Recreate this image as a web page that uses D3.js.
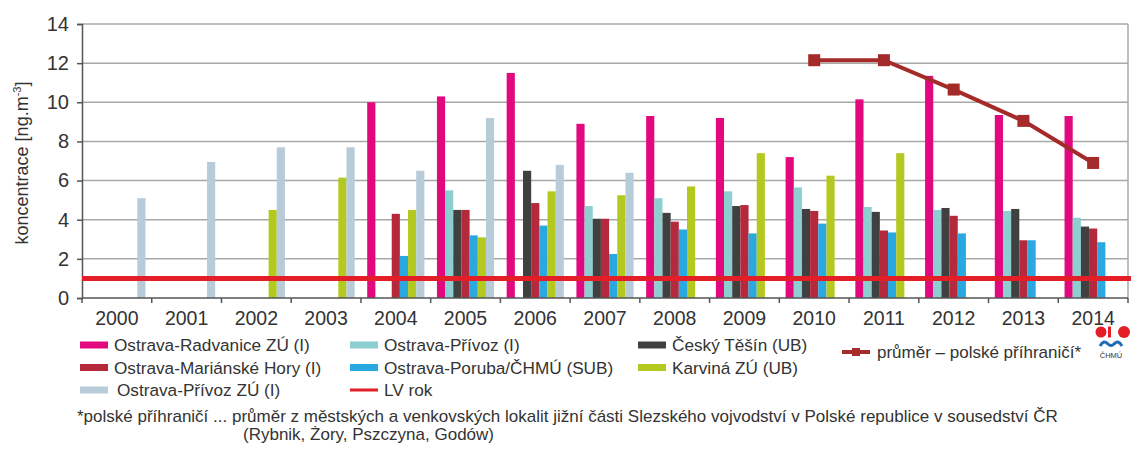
<!DOCTYPE html>
<html lang="cs">
<head>
	<meta charset="UTF-8">
	<title>Koncentrace</title>
	<script src="https://d3js.org/d3.v7.min.js"></script>
	<style>
		body {margin: 0; background: #fff;}
		text {font-family: Arial, "Liberation Sans", sans-serif; fill: #333;}
	</style>
</head>
<body>
	<div id="myDiv"></div>
<script>

	let years = ["2000","2001","2002","2003","2004","2005","2006","2007","2008","2009","2010","2011","2012","2013","2014"];
	let radvanice  = [null,null,null,null,10.0,10.3,11.5,8.9,9.3,9.2,7.2,10.15,11.35,9.35,9.3];
	let privozI    = [null,null,null,null,null,5.5,null,4.7,5.1,5.45,5.65,4.65,4.5,4.45,4.1];
	let ceskyTesin = [null,null,null,null,null,4.5,6.5,4.05,4.35,4.7,4.55,4.4,4.6,4.55,3.65];
	let marianske  = [null,null,null,null,4.3,4.5,4.85,4.05,3.9,4.75,4.45,3.45,4.2,2.95,3.55];
	let poruba     = [null,null,null,null,2.15,3.2,3.7,2.25,3.5,3.3,3.8,3.35,3.3,2.95,2.85];
	let karvina    = [null,null,4.5,6.15,4.5,3.1,5.45,5.25,5.7,7.4,6.25,7.4,null,null,null];
	let privozZU   = [5.1,6.95,7.7,7.7,6.5,9.2,6.8,6.4,null,null,null,null,null,null,null];
	let prumer     = [null,null,null,null,null,null,null,null,null,null,12.15,12.15,10.65,9.05,6.9];
	let lvRok = 1;
	let yTicks = [0,2,4,6,8,10,12,14];

	let series = [
		{name: "Ostrava-Radvanice ZÚ (I)", values: radvanice, color: "#e2087e"},
		{name: "Ostrava-Přívoz (I)", values: privozI, color: "#8dcfd1"},
		{name: "Český Těšín (UB)", values: ceskyTesin, color: "#404040"},
		{name: "Ostrava-Mariánské Hory (I)", values: marianske, color: "#b42a3c"},
		{name: "Ostrava-Poruba/ČHMÚ (SUB)", values: poruba, color: "#2aa9e0"},
		{name: "Karviná ZÚ (UB)", values: karvina, color: "#b3c920"},
		{name: "Ostrava-Přívoz ZÚ (I)", values: privozZU, color: "#b8cbd9"}
	];

	let svg = d3.select("#myDiv").append("svg")
		.attr("width", 1131)
		.attr("height", 450);

	let pLeft = 82, pRight = 1128, pTop = 24, pBottom = 298;

	let x0 = d3.scaleBand().domain(years).range([pLeft, pRight])
		.paddingInner(0.18).paddingOuter(0.09);
	let x1 = d3.scaleBand().domain(d3.range(series.length)).range([0, x0.bandwidth()]);
	let y = d3.scaleLinear().domain([0, 14]).range([pBottom, pTop]);

	// grid
	svg.append("g").selectAll("line")
		.data(yTicks.slice(1))
		.enter().append("line")
			.attr("x1", pLeft).attr("x2", pRight)
			.attr("y1", d => y(d)).attr("y2", d => y(d))
			.attr("stroke", "#a8a8a8").attr("stroke-width", 1.5);
	svg.append("line")
		.attr("x1", pRight).attr("x2", pRight)
		.attr("y1", y(14)).attr("y2", y(0))
		.attr("stroke", "#a8a8a8").attr("stroke-width", 1.5);

	// bars
	let cells = [];
	series.forEach(function(s, si){
		s.values.forEach(function(v, i){
			if (v != null) cells.push({year: years[i], si: si, v: v, color: s.color});
		});
	});
	svg.append("g").selectAll("rect")
		.data(cells)
		.enter().append("rect")
			.attr("x", d => x0(d.year) + x1(d.si))
			.attr("y", d => y(d.v))
			.attr("width", x1.bandwidth())
			.attr("height", d => y(0) - y(d.v))
			.attr("fill", d => d.color);

	// axes
	let yAxis = svg.append("g")
		.attr("transform", "translate(" + pLeft + ",0)")
		.call(d3.axisLeft(y).tickValues(yTicks).tickSize(5).tickPadding(8));
	yAxis.attr("font-family", null).attr("font-size", null);
	yAxis.selectAll("text").attr("font-size", "20px").attr("fill", "#333");
	yAxis.selectAll("line, path").attr("stroke", "#555").attr("stroke-width", 1.5);

	let step = x0.step();
	let xAxisG = svg.append("g");
	xAxisG.append("line")
		.attr("x1", pLeft).attr("x2", pRight)
		.attr("y1", pBottom).attr("y2", pBottom)
		.attr("stroke", "#555").attr("stroke-width", 1.5);
	xAxisG.selectAll(".tk")
		.data(d3.range(years.length + 1))
		.enter().append("line")
			.attr("x1", d => pLeft + d * step).attr("x2", d => pLeft + d * step)
			.attr("y1", pBottom).attr("y2", pBottom + 5)
			.attr("stroke", "#555").attr("stroke-width", 1.5);
	xAxisG.selectAll("text")
		.data(years)
		.enter().append("text")
			.attr("x", d => x0(d) + x0.bandwidth() / 2)
			.attr("y", 325)
			.attr("text-anchor", "middle")
			.attr("font-size", "19.5px")
			.text(d => d);

	// y title
	let yt = svg.append("text")
		.attr("transform", "translate(28," + ((pTop + pBottom) / 2 + 2) + ") rotate(-90)")
		.attr("text-anchor", "middle")
		.attr("font-size", "18px");
	yt.append("tspan").text("koncentrace [ng.m");
	yt.append("tspan").attr("font-size", "11px").attr("dy", -7).text("-3");
	yt.append("tspan").attr("dy", 7).text("]");

	// LV rok limit
	svg.append("line")
		.attr("x1", pLeft).attr("x2", 1131)
		.attr("y1", y(lvRok)).attr("y2", y(lvRok))
		.attr("stroke", "#e31e26").attr("stroke-width", 5);

	// průměr line
	let pts = prumer.map((v, i) => ({year: years[i], v: v})).filter(d => d.v != null);
	let line = d3.line()
		.x(d => x0(d.year) + x0.bandwidth() / 2)
		.y(d => y(d.v));
	svg.append("path")
		.datum(pts)
		.attr("d", line)
		.attr("fill", "none")
		.attr("stroke", "#a52a2a")
		.attr("stroke-width", 4);
	svg.append("g").selectAll("rect")
		.data(pts)
		.enter().append("rect")
			.attr("x", d => x0(d.year) + x0.bandwidth() / 2 - 6)
			.attr("y", d => y(d.v) - 6)
			.attr("width", 12).attr("height", 12)
			.attr("fill", "#a52a2a");

	// legend
	let legendItems = [
		{s: 0, x: 80, row: 0}, {s: 3, x: 80, row: 1}, {s: 6, x: 80, row: 2, indent: 3},
		{s: 1, x: 350, row: 0}, {s: 4, x: 350, row: 1},
		{s: 2, x: 638, row: 0}, {s: 5, x: 638, row: 1}
	];
	let leg = svg.append("g");
	legendItems.forEach(function(it){
		let cy = 345 + it.row * 22.5;
		leg.append("rect")
			.attr("x", it.x).attr("y", cy - 3.5)
			.attr("width", 28).attr("height", 7)
			.attr("fill", series[it.s].color);
		leg.append("text")
			.attr("x", it.x + 34 + (it.indent || 0)).attr("y", cy + 6)
			.attr("font-size", "17.2px")
			.text(series[it.s].name);
	});
	// LV rok legend
	leg.append("line")
		.attr("x1", 350).attr("x2", 378)
		.attr("y1", 390).attr("y2", 390)
		.attr("stroke", "#e31e26").attr("stroke-width", 3);
	leg.append("text")
		.attr("x", 384).attr("y", 396)
		.attr("font-size", "17.2px")
		.text("LV rok");
	// průměr legend
	leg.append("line")
		.attr("x1", 842).attr("x2", 870)
		.attr("y1", 352).attr("y2", 352)
		.attr("stroke", "#a52a2a").attr("stroke-width", 4);
	leg.append("rect")
		.attr("x", 852).attr("y", 348)
		.attr("width", 8).attr("height", 8)
		.attr("fill", "#a52a2a");
	leg.append("text")
		.attr("x", 877).attr("y", 358)
		.attr("font-size", "17px")
		.text("průměr – polské příhraničí*");

	// ČHMÚ logo
	let logo = svg.append("g");
	logo.append("circle").attr("cx", 1101).attr("cy", 332).attr("r", 5.5).attr("fill", "#e31e26");
	logo.append("rect").attr("x", 1108).attr("y", 326.5).attr("width", 3).attr("height", 11).attr("fill", "#e31e26");
	logo.append("circle").attr("cx", 1124).attr("cy", 332).attr("r", 6).attr("fill", "#e31e26");
	logo.append("path")
		.attr("d", "M1100,346 Q1104,339 1108,344 Q1111,347 1114,344 Q1118,339 1122,346")
		.attr("fill", "none")
		.attr("stroke", "#1f6fb5")
		.attr("stroke-width", 3);
	logo.append("text")
		.attr("x", 1111).attr("y", 358)
		.attr("text-anchor", "middle")
		.attr("font-size", "7.5px")
		.attr("fill", "#1f6fb5")
		.text("ČHMÚ");

	// footnote
	svg.append("text")
		.attr("x", 77).attr("y", 422)
		.attr("font-size", "17px")
		.text("*polské příhraničí ... průměr z městských a venkovských lokalit jižní části Slezského vojvodství v Polské republice v sousedství ČR");
	svg.append("text")
		.attr("x", 243).attr("y", 440)
		.attr("font-size", "17px")
		.text("(Rybnik, Żory, Pszczyna, Godów)");

</script>
</body>
</html>
